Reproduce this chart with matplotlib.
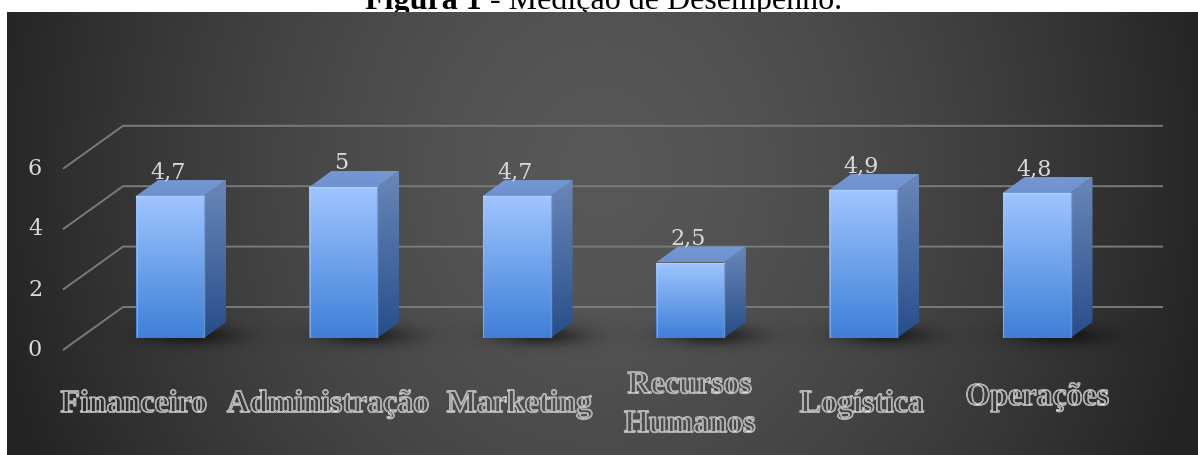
import numpy as np
import matplotlib
matplotlib.use('Agg')
import matplotlib.pyplot as plt
from matplotlib.patches import Polygon
from matplotlib import patheffects as pe
from matplotlib.colors import to_rgb

# ---------------- data ----------------
categories = ['Financeiro', 'Administração', 'Marketing', 'Recursos\nHumanos', 'Logística', 'Operações']
values = [4.7, 5, 4.7, 2.5, 4.9, 4.8]
value_labels = ['4,7', '5', '4,7', '2,5', '4,9', '4,8']
yticks = [0, 2, 4, 6]
title_bold = 'Figura 1'
title_rest = ' - Medição de Desempenho.'

# ---------------- layout (pixels) ----------------
W, H, DPI = 1198, 455, 100
X0_PX, PITCH_PX, BASE_PX, UNIT_PX = 170.0, 173.3, 338.0, 30.2
HALF_W_PX = 34
DEPTH_DX_PX, DEPTH_DY_PX = 22, 16
label_dx_px = [-36, -15, 3, 0, -1, 1]
label_base_px = [412, 412, 412, 432, 412, 405]


def px_x(d):
    return d / PITCH_PX


def px_y(d):
    return d / UNIT_PX


fig = plt.figure(figsize=(W / DPI, H / DPI), dpi=DPI, facecolor='white')

# ---------------- background panel (radial gradient) ----------------
bg = fig.add_axes([7 / W, 0, (W - 7) / W, (H - 12) / H], zorder=0)
nx, ny = 400, 200
XX, YY = np.meshgrid(np.linspace(7, W, nx), np.linspace(12, H, ny))
rr = np.sqrt(((XX - 600) / 620) ** 2 + ((YY - 170) / 700) ** 2)
rr = np.clip(rr, 0, 1) ** 1.5
cc = (88 - (88 - 36) * rr) / 255
bg.imshow(np.dstack([cc, cc, cc]), aspect='auto', extent=(0, 1, 0, 1), origin='upper',
          interpolation='bilinear')
bg.axis('off')

# ---------------- main axes ----------------
ax = fig.add_axes([0, 0, 1, 1], zorder=1)
ax.patch.set_alpha(0)
xlim = (px_x(0 - X0_PX), px_x(W - X0_PX))
ylim = (px_y(BASE_PX - H), px_y(BASE_PX - 0))

FLOOR_DY = px_y(-12)
WALL_DY = px_y(31)
left_front_x = px_x(63 - X0_PX)
left_back_x = px_x(123 - X0_PX)
right_x = px_x(1163 - X0_PX)

tick_font = dict(family='DejaVu Serif', fontsize=16, color='#d9d9d9')
for v in yticks:
    ax.plot([left_front_x, left_back_x, right_x], [v + FLOOR_DY, v + WALL_DY, v + WALL_DY],
            color='#7a7a7a', lw=1.4, solid_capstyle='butt', zorder=1)
    ax.text(px_x(35 - X0_PX), v + FLOOR_DY, str(v), ha='center', va='center', **tick_font)


def grad_fill(xy, top, bottom, zorder):
    xy = np.asarray(xy)
    poly = Polygon(xy, closed=True, facecolor='none', edgecolor='none')
    ax.add_patch(poly)
    t = np.linspace(0, 1, 256)[:, None, None]
    c0 = np.array(to_rgb(top))[None, None, :]
    c1 = np.array(to_rgb(bottom))[None, None, :]
    img = c0 + (c1 - c0) * t
    im = ax.imshow(img, extent=(xy[:, 0].min(), xy[:, 0].max(), xy[:, 1].min(), xy[:, 1].max()),
                   origin='upper', aspect='auto', zorder=zorder, interpolation='bilinear')
    im.set_clip_path(poly)


def blob(cx, cy, sx, sy, amax, zorder):
    n = 80
    g = np.linspace(-3, 3, n)
    G = np.exp(-0.5 * (g[None, :] ** 2 + g[:, None] ** 2))
    img = np.zeros((n, n, 4))
    img[..., 3] = amax * G
    ax.imshow(img, extent=(cx - 3 * sx, cx + 3 * sx, cy - 3 * sy, cy + 3 * sy), aspect='auto',
              zorder=zorder, interpolation='bilinear')


hw = px_x(HALF_W_PX)
ddx = px_x(DEPTH_DX_PX)
ddy = px_y(DEPTH_DY_PX)

for i, v in enumerate(values):
    # shadow
    blob(i + px_x(22), px_y(2), px_x(32), px_y(7), 0.55, 2)
    # side face
    grad_fill([(i + hw, 0), (i + hw + ddx, ddy), (i + hw + ddx, v + ddy), (i + hw, v)],
              '#6a87b8', '#274e8a', 3)
    # top face
    grad_fill([(i - hw, v), (i + hw, v), (i + hw + ddx, v + ddy), (i - hw + ddx, v + ddy)],
              '#7598d3', '#6e92cf', 3)
    # front face
    grad_fill([(i - hw, 0), (i + hw, 0), (i + hw, v), (i - hw, v)],
              '#9fc5ff', '#3e7fd7', 4)
    # bevel highlights
    ax.plot([i + hw, i + hw], [0.03, v - 0.03], color='#8db6f4', lw=1.0, alpha=0.6, zorder=5)
    ax.plot([i - hw + 0.004, i - hw + 0.004], [0.03, v - 0.03], color='#a9ccff', lw=0.8, alpha=0.5, zorder=5)
    ax.plot([i - hw, i + hw], [v - 0.01, v - 0.01], color='#b9d6ff', lw=1.0, alpha=0.6, zorder=5)
    # value label
    ax.text(i - px_x(2), v + px_y(DEPTH_DY_PX + 2), value_labels[i], ha='center', va='baseline',
            zorder=6, **tick_font)

# category labels (outlined)
for i, cat in enumerate(categories):
    ax.text(i + px_x(label_dx_px[i]), px_y(BASE_PX - label_base_px[i]), cat,
            ha='center', va='baseline', multialignment='center', fontsize=23,
            fontweight='bold', family='Liberation Serif', color=(0, 0, 0, 0), linespacing=1.45,
            path_effects=[pe.Stroke(linewidth=1.1, foreground='#f0f0f0'),
                          pe.Stroke(linewidth=0.3, foreground='#5a5a5a')],
            zorder=6)

ax.set_xlim(*xlim)
ax.set_ylim(*ylim)
ax.axis('off')

# ---------------- title (partly hidden behind the panel) ----------------
tfont = dict(family='Liberation Serif', fontsize=23, color='black', va='baseline', ha='left', zorder=-1)
t1 = fig.text(365 / W, 1 - 9 / H, title_bold, fontweight='bold', **tfont)
renderer = fig.canvas.get_renderer()
bb = t1.get_window_extent(renderer=renderer)
fig.text(bb.x1 / W, 1 - 9 / H, title_rest, **tfont)

fig.savefig('out.png', dpi=DPI, facecolor='white')
